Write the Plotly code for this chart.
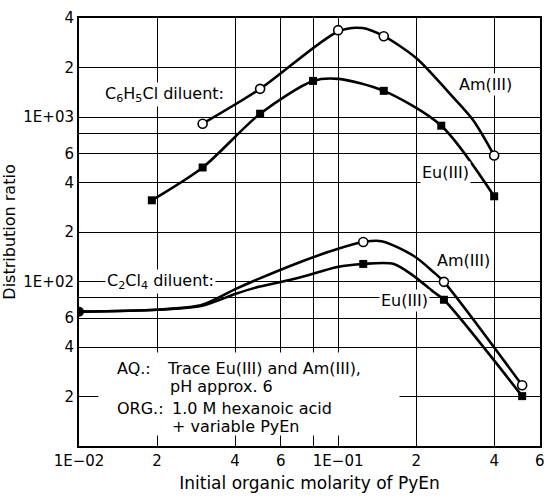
import plotly.graph_objects as go
import math

# ---- data ----
# C6H5Cl diluent
am1_x = [0.030, 0.050, 0.100, 0.150, 0.400]
am1_y = [912, 1486, 3380, 3105, 584]
am1_cx = [0.030, 0.050, 0.100, 0.124, 0.150, 0.200, 0.268, 0.331, 0.400]
am1_cy = [912, 1486, 3320, 3480, 3105, 2288, 1405, 964, 584]

eu1_x = [0.0191, 0.030, 0.050, 0.080, 0.150, 0.250, 0.400]
eu1_y = [312, 494, 1049, 1660, 1445, 887, 330]
eu1_cx = [0.0191, 0.030, 0.050, 0.080, 0.100, 0.150, 0.250, 0.400]
eu1_cy = [312, 494, 1049, 1660, 1708, 1445, 887, 330]

# C2Cl4 diluent
am2_x = [0.125, 0.256, 0.513]
am2_y = [174, 99.6, 23.4]
am2_cx = [0.0100, 0.0200, 0.0299, 0.0403, 0.0493, 0.0699, 0.0993, 0.125, 0.147, 0.196, 0.233, 0.256, 0.513]
am2_cy = [65.6, 67.4, 72.3, 90.3, 103.8, 129.8, 157.8, 174, 176, 143, 114.5, 99.6, 23.4]

eu2_x = [0.125, 0.256, 0.513]
eu2_y = [128, 77.5, 20.1]
eu2_cx = [0.0100, 0.0200, 0.0299, 0.0403, 0.0493, 0.0699, 0.0993, 0.125, 0.164, 0.196, 0.233, 0.256, 0.513]
eu2_cy = [65.6, 67.4, 71.3, 84.3, 92.9, 105, 122.7, 128, 128, 108, 86.6, 77.5, 20.1]

start_x = [0.010]
start_y = [65.6]

x_tickvals = [0.01, 0.02, 0.04, 0.06, 0.08, 0.1, 0.2, 0.4, 0.6]
x_ticktext = ["1E\u221202", "2", "4", "6", "", "1E\u221201", "2", "4", "6"]
y_tickvals = [20, 40, 60, 80, 100, 200, 400, 600, 800, 1000, 2000, 4000]
y_ticktext = ["2", "4", "6", "", "1E+02", "2", "4", "6", "", "1E+03", "2", "4"]

FONT = "DejaVu Sans"

fig = go.Figure()

line_style = dict(color="black", width=2.6, shape="spline", smoothing=0.8)
for cx, cy in [(am1_cx, am1_cy), (eu1_cx, eu1_cy), (am2_cx, am2_cy), (eu2_cx, eu2_cy)]:
    fig.add_trace(go.Scatter(x=cx, y=cy, mode="lines", line=line_style,
                             hoverinfo="skip", showlegend=False))

circ = dict(symbol="circle", size=9, color="white", line=dict(color="black", width=1.6))
sq = dict(symbol="square", size=8, color="black", line=dict(color="black", width=0))
fig.add_trace(go.Scatter(x=am1_x, y=am1_y, mode="markers", marker=circ, showlegend=False))
fig.add_trace(go.Scatter(x=eu1_x, y=eu1_y, mode="markers", marker=sq, showlegend=False))
fig.add_trace(go.Scatter(x=am2_x, y=am2_y, mode="markers", marker=circ, showlegend=False))
fig.add_trace(go.Scatter(x=eu2_x, y=eu2_y, mode="markers", marker=sq, showlegend=False))
fig.add_trace(go.Scatter(x=start_x, y=start_y, mode="markers",
                         marker=dict(symbol="circle", size=10, color="black"), showlegend=False))

fig.update_xaxes(type="log", range=[-2, math.log10(0.6) + 0.0008],
                 tickvals=x_tickvals, ticktext=x_ticktext,
                 showgrid=True, gridcolor="black", gridwidth=1.3,
                 showline=True, linecolor="black", linewidth=2, mirror=True,
                 ticks="", tickfont=dict(family=FONT, size=15, color="black"),
                 title=dict(text="Initial organic molarity of PyEn",
                            font=dict(family=FONT, size=17, color="black"), standoff=8))
fig.update_yaxes(type="log", range=[1, math.log10(4000) + 0.0008],
                 tickvals=y_tickvals, ticktext=y_ticktext,
                 showgrid=True, gridcolor="black", gridwidth=1.3,
                 showline=True, linecolor="black", linewidth=2, mirror=True,
                 ticks="", tickfont=dict(family=FONT, size=15, color="black"),
                 title=dict(text="Distribution ratio",
                            font=dict(family=FONT, size=16, color="black"), standoff=4))

annfont = dict(family=FONT, size=16, color="black")
anns = []
# white box behind the conditions text
anns.append(dict(xref="paper", yref="paper", x=0.368, y=0.121, text="\u00a0",
                 width=300, height=82, bgcolor="white", showarrow=False,
                 xanchor="center", yanchor="middle", borderpad=0))
labels = [
    ("C<sub>6</sub>H<sub>5</sub>Cl diluent:", 0.185, 0.821, "center", True),
    ("Am(III)", 0.882, 0.844, "center", True),
    ("Eu(III)", 0.794, 0.640, "center", True),
    ("C<sub>2</sub>Cl<sub>4</sub> diluent:", 0.176, 0.384, "center", True),
    ("Am(III)", 0.833, 0.433, "center", True),
    ("Eu(III)", 0.707, 0.340, "center", True),
    ("AQ.:", 0.079, 0.180, "left", False),
    ("Trace Eu(III) and Am(III),", 0.186, 0.180, "left", False),
    ("pH approx. 6", 0.193, 0.140, "left", False),
    ("ORG.:", 0.079, 0.088, "left", False),
    ("1.0 M hexanoic acid", 0.197, 0.088, "left", False),
    ("+ variable PyEn", 0.197, 0.046, "left", False),
]
for t, x, y, xa, bg in labels:
    a = dict(xref="paper", yref="paper", x=x, y=y, text=t, showarrow=False,
             xanchor=xa, yanchor="middle", font=annfont, borderpad=1)
    if bg:
        a["bgcolor"] = "white"
    anns.append(a)

fig.update_layout(width=553, height=498,
                  margin=dict(l=78, r=8, t=18, b=50),
                  paper_bgcolor="white", plot_bgcolor="white",
                  annotations=anns, showlegend=False)

fig.write_html("out.html")
